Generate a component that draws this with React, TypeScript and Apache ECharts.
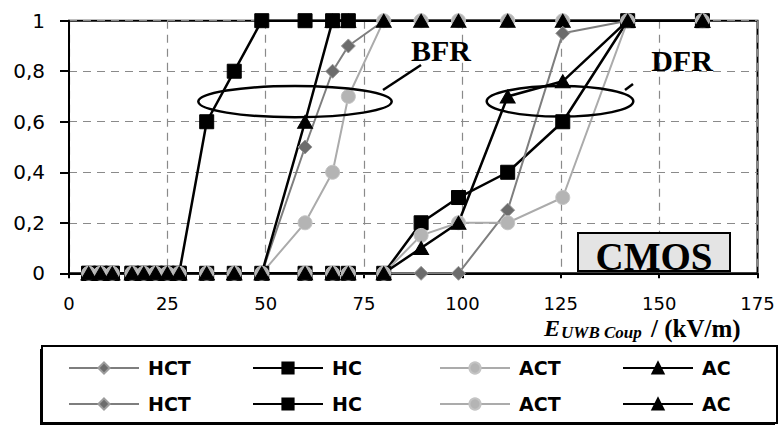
import React, { useEffect, useRef } from 'react';
import * as echarts from 'echarts';

// Shared field-strength sample points (kV/m)
const xValues = [5, 8, 11, 16, 19, 22, 25, 28, 35, 42, 49, 60, 67, 71, 80, 89.5, 99, 111.5, 125.5, 142, 161];

// BFR (left group) failure rates
const bfrHCT = [0, 0, 0, 0, 0, 0, 0, 0, 0, 0, 0, 0.5, 0.8, 0.9, 1, 1, 1, 1, 1, 1, 1];
const bfrHC = [0, 0, 0, 0, 0, 0, 0, 0, 0.6, 0.8, 1, 1, 1, 1];
const bfrACT = [0, 0, 0, 0, 0, 0, 0, 0, 0, 0, 0, 0.2, 0.4, 0.7, 1, 1, 1, 1, 1, 1, 1];
const bfrAC = [0, 0, 0, 0, 0, 0, 0, 0, 0, 0, 0, 0.6, 1, 1, 1, 1, 1, 1, 1, 1, 1];

// DFR (right group) failure rates
const dfrHCT = [0, 0, 0, 0, 0, 0, 0, 0, 0, 0, 0, 0, 0, 0, 0, 0, 0, 0.25, 0.95, 1, 1];
const dfrHC = [0, 0, 0, 0, 0, 0, 0, 0, 0, 0, 0, 0, 0, 0, 0, 0.2, 0.3, 0.4, 0.6, 1, 1];
const dfrACT = [0, 0, 0, 0, 0, 0, 0, 0, 0, 0, 0, 0, 0, 0, 0, 0.15, 0.2, 0.2, 0.3, 1, 1];
const dfrAC = [0, 0, 0, 0, 0, 0, 0, 0, 0, 0, 0, 0, 0, 0, 0, 0.1, 0.2, 0.7, 0.76, 1, 1];

const legendLabels = ['HCT', 'HC', 'ACT', 'AC'];
const xAxisRange = [0, 175];
const yAxisRange = [0, 1];

const styles: Record<string, any> = {
  HCT: { symbol: 'diamond', size: 14, line: '#7e7e7e', width: 2, fill: '#6c6c6c', border: '#9c9c9c' },
  HC: { symbol: 'rect', size: 14, line: '#000000', width: 2.5, fill: '#000000', border: '#000000' },
  ACT: { symbol: 'circle', size: 14, line: '#ababab', width: 2, fill: '#b4b4b4', border: '#c4c4c4' },
  AC: { symbol: 'triangle', size: [15, 13], line: '#000000', width: 2.5, fill: '#000000', border: '#000000' },
};

function toPairs(ys: number[]) {
  return ys.map((y, i) => [xValues[i], y]);
}

function makeSeries(group: string, kind: string, ys: number[]) {
  const s = styles[kind];
  return {
    name: group + ' ' + kind,
    type: 'line',
    data: toPairs(ys),
    symbol: s.symbol,
    symbolSize: s.size,
    showAllSymbol: true,
    clip: false,
    lineStyle: { color: s.line, width: s.width },
    itemStyle: { color: s.fill, borderColor: s.border, borderWidth: 1 },
    emphasis: { disabled: true },
  };
}

export default function App() {
  const ref = useRef<HTMLDivElement>(null);

  useEffect(() => {
    if (!ref.current) return;
    const chart = echarts.init(ref.current, null, { renderer: 'svg' });

    const series = [
      makeSeries('BFR', 'HCT', bfrHCT),
      makeSeries('BFR', 'ACT', bfrACT),
      makeSeries('BFR', 'AC', bfrAC),
      makeSeries('BFR', 'HC', bfrHC),
      makeSeries('DFR', 'HC', dfrHC),
      makeSeries('DFR', 'HCT', dfrHCT),
      makeSeries('DFR', 'ACT', dfrACT),
      makeSeries('DFR', 'AC', dfrAC),
    ];

    const legendLefts = [68, 252, 439, 622];
    const legendTops = [358, 394];
    const legends: any[] = [];
    ['BFR', 'DFR'].forEach((g, row) => {
      legendLabels.forEach((lab, col) => {
        legends.push({
          data: [g + ' ' + lab],
          left: legendLefts[col],
          top: legendTops[row],
          padding: 0,
          itemWidth: 70,
          itemHeight: 14,
          selectedMode: false,
          formatter: (n: string) => n.split(' ')[1],
          textStyle: {
            fontFamily: 'DejaVu Sans',
            fontWeight: 'bold',
            fontSize: 19,
            lineHeight: 20,
            color: '#000',
            padding: [0, 0, 0, 4],
          },
        });
      });
    });

    const serif = 'Liberation Serif';

    chart.setOption({
      animation: false,
      grid: {
        left: 69,
        right: 22.5,
        top: 20.7,
        bottom: 154.7,
        show: true,
        borderColor: '#000',
        borderWidth: 2,
        backgroundColor: 'transparent',
      },
      xAxis: {
        type: 'value',
        min: xAxisRange[0],
        max: xAxisRange[1],
        interval: 25,
        axisLine: { lineStyle: { color: '#000', width: 2 } },
        axisTick: { show: true, length: 5, lineStyle: { color: '#000', width: 2 } },
        axisLabel: { color: '#000', fontFamily: 'DejaVu Sans', fontSize: 18, lineHeight: 18, margin: 21 },
        splitLine: { show: true, lineStyle: { color: '#8a8a8a', width: 1.2, type: [8, 6] } },
      },
      yAxis: {
        type: 'value',
        min: yAxisRange[0],
        max: yAxisRange[1],
        interval: 0.2,
        axisLine: { show: true, lineStyle: { color: '#000', width: 2 } },
        axisTick: { show: true, length: 9, lineStyle: { color: '#000', width: 2 } },
        axisLabel: {
          color: '#000',
          fontFamily: 'DejaVu Sans',
          fontSize: 20,
          margin: 24,
          formatter: (v: number) => (v === 0 ? '0' : v === 1 ? '1' : v.toFixed(1).replace('.', ',')),
        },
        splitLine: { show: true, lineStyle: { color: '#8a8a8a', width: 1.2, type: [8, 6] } },
      },
      legend: legends,
      series,
      graphic: [
        { type: 'rect', z: 0, shape: { x: 40, y: 349, width: 735, height: 76 }, style: { fill: '#000' } },
        { type: 'rect', z: 1, shape: { x: 42, y: 346, width: 735, height: 77 }, style: { fill: '#fff', stroke: '#000', lineWidth: 2 } },
        { type: 'ellipse', z: 100, shape: { cx: 295, cy: 101.6, rx: 96.7, ry: 15.6 }, style: { fill: 'none', stroke: '#000', lineWidth: 2.5 } },
        { type: 'line', z: 100, shape: { x1: 383, y1: 90, x2: 421, y2: 65 }, style: { stroke: '#000', lineWidth: 2.5 } },
        { type: 'text', z: 100, x: 441, y: 50, style: { text: 'BFR', fontFamily: serif, fontWeight: 'bold', fontSize: 30, fill: '#000', align: 'center', verticalAlign: 'middle' } },
        { type: 'ellipse', z: 100, shape: { cx: 560, cy: 101.3, rx: 73.3, ry: 15.3 }, style: { fill: 'none', stroke: '#000', lineWidth: 2.5 } },
        { type: 'line', z: 100, shape: { x1: 625, y1: 90, x2: 633, y2: 84 }, style: { stroke: '#000', lineWidth: 2.5 } },
        { type: 'text', z: 100, x: 682, y: 60, style: { text: 'DFR', fontFamily: serif, fontWeight: 'bold', fontSize: 30, fill: '#000', align: 'center', verticalAlign: 'middle' } },
        { type: 'rect', z: 100, shape: { x: 578, y: 233, width: 152, height: 38 }, style: { fill: '#e4e4e4', stroke: '#000', lineWidth: 2 } },
        { type: 'text', z: 101, x: 654, y: 256, style: { text: 'CMOS', fontFamily: serif, fontWeight: 'bold', fontSize: 39, fill: '#000', align: 'center', verticalAlign: 'middle' } },
        { type: 'text', z: 100, x: 544, y: 328, style: { text: 'E', fontFamily: serif, fontWeight: 'bold', fontStyle: 'italic', fontSize: 24, lineHeight: 18, fill: '#000', align: 'left', verticalAlign: 'middle' } },
        { type: 'text', z: 100, x: 561, y: 332, style: { text: 'UWB Coup', fontFamily: serif, fontWeight: 'bold', fontStyle: 'italic', fontSize: 17, lineHeight: 12, fill: '#000', align: 'left', verticalAlign: 'middle' } },
        { type: 'text', z: 100, x: 651, y: 328, style: { text: '/ (kV/m)', fontFamily: serif, fontWeight: 'bold', fontSize: 25, lineHeight: 18, fill: '#000', align: 'left', verticalAlign: 'middle' } },
      ],
    });

    return () => chart.dispose();
  }, []);

  return <div ref={ref} style={{ position: 'fixed', left: 0, top: 0, width: 780, height: 428, background: '#fff' }} />;
}
